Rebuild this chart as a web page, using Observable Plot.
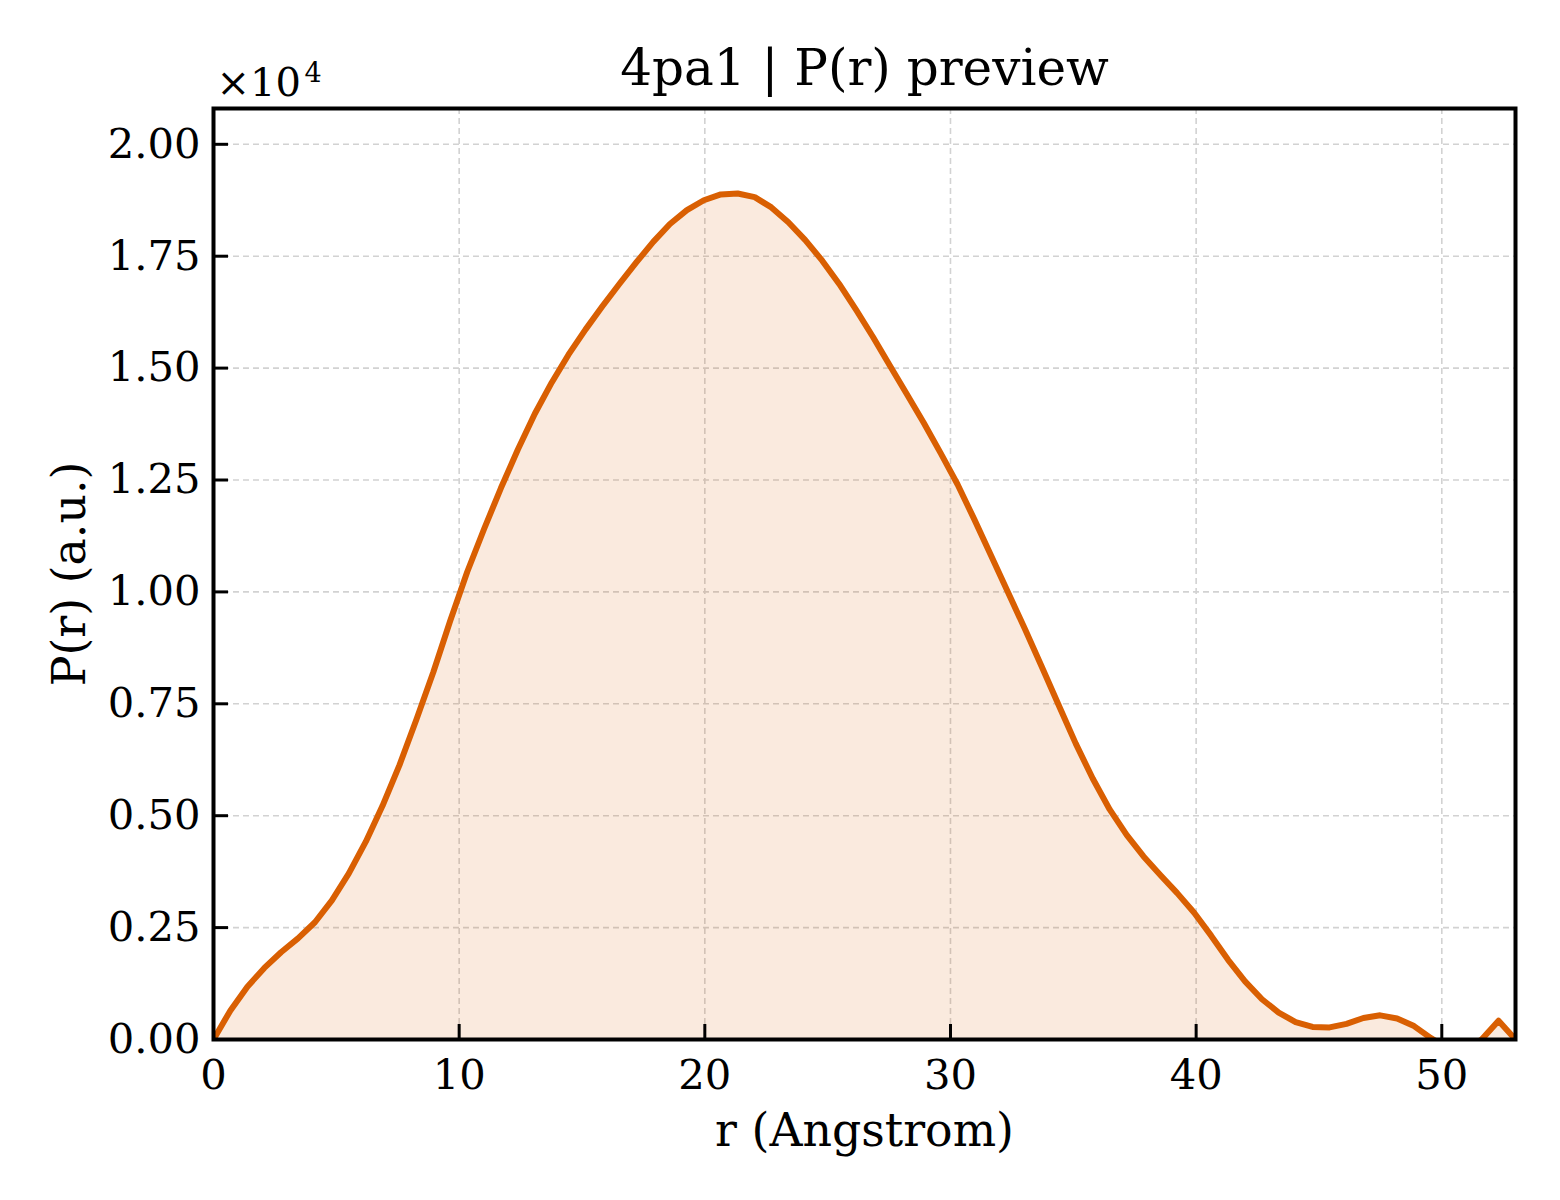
<!DOCTYPE html>
<html><head><meta charset="utf-8">
<script src="https://cdn.jsdelivr.net/npm/d3@7"></script>
<script src="https://cdn.jsdelivr.net/npm/@observablehq/plot@0.6"></script>
<style>body{margin:0;background:#fff;} svg{display:block;}</style>
</head><body><div id="chart"></div>
<script>
// distance r (Angstrom)
const r = [0.00,0.69,1.38,2.07,2.75,3.44,4.13,4.82,5.51,6.20,6.88,7.57,8.26,8.95,9.64,10.33,11.01,11.70,12.39,13.08,
  13.77,14.45,15.14,15.83,16.52,17.21,17.90,18.58,19.27,19.96,20.65,21.34,22.03,22.71,23.40,24.09,24.78,25.47,26.16,26.84,
  27.53,28.22,28.91,29.60,30.29,30.97,31.66,32.35,33.04,33.73,34.42,35.10,35.79,36.48,37.17,37.86,38.55,39.23,39.92,40.61,
  41.30,41.99,42.68,43.36,44.05,44.74,45.43,46.12,46.81,47.49,48.18,48.87,49.56,50.25,50.94,51.62,52.31,53.00];
// P(r) (a.u.)
const pr = [0,650,1180,1600,1950,2260,2620,3110,3710,4420,5220,6130,7150,8210,9360,10450,11400,12320,13180,13980,
  14680,15300,15860,16380,16880,17360,17820,18220,18530,18750,18880,18900,18820,18590,18260,17860,17400,16880,16300,15700,
  15060,14420,13780,13100,12400,11620,10800,9980,9160,8310,7450,6610,5830,5140,4570,4090,3670,3270,2830,2320,
  1780,1300,900,600,390,280,270,350,480,540,470,300,30,-200,-250,0,420,0];
const xTicks = [0,10,20,30,40,50];
const yTicks = [0,2500,5000,7500,10000,12500,15000,17500,20000];
const xGrid = [10,20,30,40,50];
const yGrid = [2500,5000,7500,10000,12500,15000,17500,20000];
const title = "4pa1 | P(r) preview";
const xLabel = "r (Angstrom)";
const yLabel = "P(r) (a.u.)";
const offsetBase = "×10";
const offsetExp = "4";

const data = r.map((x, i) => ({r: x, p: pr[i]}));
const W = 1560, H = 1200, mL = 213, mR = 45, mT = 108, mB = 161;
const frameW = W - mL - mR, frameH = H - mT - mB;
const color = "#d95f02";
const gridStyle = {stroke: "#d2d2d2", strokeWidth: 1.6, strokeDasharray: "6,4"};

const chart = Plot.plot({
  width: W, height: H,
  marginLeft: mL, marginRight: mR, marginTop: mT, marginBottom: mB,
  style: {fontFamily: "'DejaVu Serif', serif", fontSize: "41.7px", color: "black", background: "white"},
  x: {domain: [0, 53], label: null},
  y: {domain: [0, 20800], label: null},
  marks: [
    Plot.ruleX(xGrid, {x: d => d, ...gridStyle}),
    Plot.ruleY(yGrid, {y: d => d, ...gridStyle}),
    Plot.areaY(data, {x: "r", y: "p", fill: color, fillOpacity: 0.13, clip: true}),
    Plot.line(data, {x: "r", y: "p", stroke: color, strokeWidth: 6, strokeLinejoin: "round", clip: true}),
    Plot.axisX({ticks: xTicks, tickSize: 0, tickPadding: 20, tickFormat: d => String(d), fontSize: 41.7, label: null}),
    Plot.axisY({ticks: yTicks, tickSize: 0, tickPadding: 13, tickFormat: d => (d / 1e4).toFixed(2), fontSize: 41.7, label: null}),
    Plot.tickX(xTicks, {x: d => d, insetTop: frameH - 15, stroke: "black", strokeWidth: 3}),
    Plot.tickY(yTicks, {y: d => d, insetRight: frameW - 15, stroke: "black", strokeWidth: 3}),
    Plot.frame({stroke: "black", strokeWidth: 4}),
    Plot.text([title], {text: d => d, frameAnchor: "top", textAnchor: "middle", dy: -24, lineAnchor: "bottom", fontSize: 50}),
    Plot.text([offsetBase], {text: d => d, frameAnchor: "top-left", textAnchor: "start", dx: 3, dy: -13, lineAnchor: "bottom", fontSize: 40}),
    Plot.text([offsetExp], {text: d => d, frameAnchor: "top-left", textAnchor: "start", dx: 91, dy: -27, lineAnchor: "bottom", fontSize: 27}),
    Plot.text([xLabel], {text: d => d, frameAnchor: "bottom", textAnchor: "middle", dy: 106, lineAnchor: "bottom", fontSize: 45.8}),
    Plot.text([yLabel], {text: d => d, frameAnchor: "left", textAnchor: "middle", dx: -129, rotate: -90, lineAnchor: "bottom", fontSize: 45.8})
  ]
});
document.getElementById("chart").appendChild(chart);
</script>
</body></html>
